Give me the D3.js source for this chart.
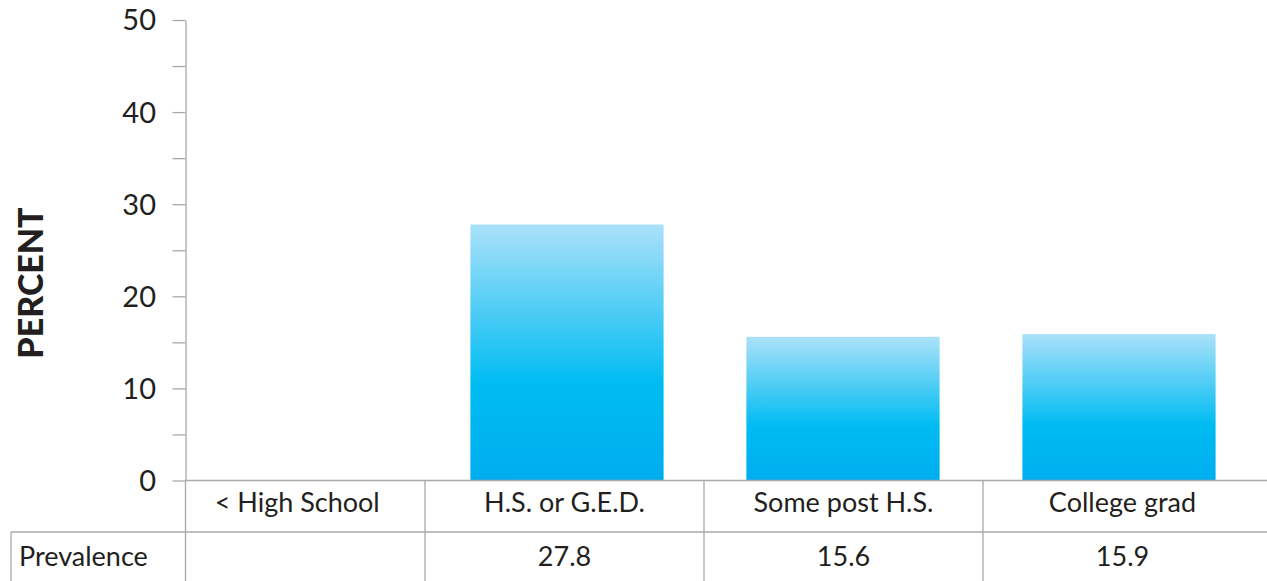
<!DOCTYPE html>
<html>
<head>
<meta charset="utf-8">
<script src="https://cdn.jsdelivr.net/npm/d3@7/dist/d3.min.js"></script>
<style>
  html, body { margin: 0; padding: 0; background: #fff; }
  svg { display: block; }
  text { font-family: "Lato", "Open Sans", sans-serif; fill: #231f20; }
</style>
</head>
<body>
<svg id="chart" width="1267" height="581"></svg>
<script>
// Education levels and prevalence (%)
const categories = ["< High School", "H.S. or G.E.D.", "Some post H.S.", "College grad"];
const prevalence = [null, 27.8, 15.6, 15.9];
const prevalenceLabels = ["", "27.8", "15.6", "15.9"];
const yTicks = [0, 10, 20, 30, 40, 50];
const yMinorTicks = [0, 5, 10, 15, 20, 25, 30, 35, 40, 45, 50];
const rowLabel = "Prevalence";
const yTitle = "PERCENT";

const W = 1267, H = 581;
const svg = d3.select("#chart");

const axisX = 185.5;
const baseY = 480.5;
const rowY = 532;
const lineColor = "#a7a9ac";

const y = d3.scaleLinear().domain([0, 50]).range([baseY, 20]);

// bars
const x = d3.scaleBand().domain(categories).range([153, 1257])
  .paddingInner(0.3).paddingOuter(0.15);

// table columns
const col = d3.scaleBand().domain(categories).range([146, 1262]).padding(0);

const defs = svg.append("defs");
const grad = defs.append("linearGradient").attr("id", "barGrad")
  .attr("x1", 0).attr("y1", 0).attr("x2", 0).attr("y2", 1);
grad.append("stop").attr("offset", "0%").attr("stop-color", "#abe1f9");
grad.append("stop").attr("offset", "62%").attr("stop-color", "#00bcf2");
grad.append("stop").attr("offset", "100%").attr("stop-color", "#00adee");

const data = categories.map((c, i) => ({ c, v: prevalence[i], label: prevalenceLabels[i] }));

svg.append("g").selectAll("rect")
  .data(data.filter(d => d.v != null))
  .join("rect")
  .attr("x", d => x(d.c))
  .attr("width", x.bandwidth())
  .attr("y", d => y(d.v))
  .attr("height", d => y(0) - y(d.v))
  .attr("fill", "url(#barGrad)");

// y axis
const yAxis = d3.axisLeft(y).tickValues(yMinorTicks).tickSize(13).tickFormat("").tickSizeOuter(0);
const gy = svg.append("g").attr("transform", `translate(${axisX},0)`).call(yAxis);
gy.select(".domain").attr("stroke", lineColor).attr("stroke-width", 1.3);
gy.selectAll(".tick line").attr("stroke", lineColor).attr("stroke-width", 1.3);

svg.append("g").selectAll("text")
  .data(yTicks)
  .join("text")
  .attr("x", 156)
  .attr("y", d => y(d))
  .attr("dy", "0.36em")
  .attr("text-anchor", "end")
  .attr("font-size", 29)
  .text(d => d);

// y title
svg.append("text")
  .attr("transform", `translate(43,283) rotate(-90)`)
  .attr("text-anchor", "middle")
  .attr("font-size", 34)
  .attr("font-weight", 900)
  .text(yTitle);

// table grid
const grid = svg.append("g").attr("stroke", lineColor).attr("stroke-width", 1.3).attr("fill", "none");
grid.append("line").attr("x1", axisX).attr("x2", W).attr("y1", baseY).attr("y2", baseY);
grid.append("line").attr("x1", 11).attr("x2", W).attr("y1", rowY).attr("y2", rowY);
grid.append("line").attr("x1", 11).attr("x2", 11).attr("y1", rowY).attr("y2", H);
grid.append("line").attr("x1", axisX).attr("x2", axisX).attr("y1", baseY).attr("y2", H);
grid.selectAll("line.sep")
  .data(categories.slice(1))
  .join("line").attr("class", "sep")
  .attr("x1", d => col(d)).attr("x2", d => col(d))
  .attr("y1", baseY).attr("y2", H);

// category header cells
const cellCenter = c => {
  const left = Math.max(col(c), axisX);
  return (left + col(c) + col.bandwidth()) / 2;
};
svg.append("g").selectAll("text")
  .data(categories)
  .join("text")
  .attr("x", (c, i) => i === 0 ? cellCenter(c) - 8 : cellCenter(c))
  .attr("y", 502)
  .attr("dy", "0.36em")
  .attr("text-anchor", "middle")
  .attr("font-size", 27)
  .text(c => c);

// prevalence row
svg.append("text")
  .attr("x", 19)
  .attr("y", (rowY + H) / 2)
  .attr("dy", "0.36em")
  .attr("font-size", 27)
  .text(rowLabel);

svg.append("g").selectAll("text")
  .data(data)
  .join("text")
  .attr("x", d => cellCenter(d.c))
  .attr("y", (rowY + H) / 2)
  .attr("dy", "0.36em")
  .attr("text-anchor", "middle")
  .attr("font-size", 27)
  .text(d => d.label);
</script>
</body>
</html>
